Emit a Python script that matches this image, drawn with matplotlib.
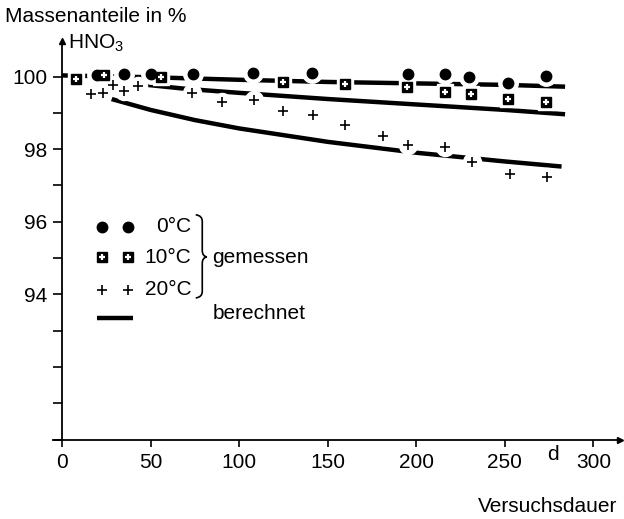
import matplotlib
matplotlib.use("Agg")
import matplotlib.pyplot as plt
from matplotlib.path import Path
from matplotlib.patches import PathPatch

plt.rcParams['font.family'] = ['Liberation Sans', 'DejaVu Sans']
plt.rcParams['mathtext.fontset'] = 'custom'
plt.rcParams['mathtext.rm'] = 'Liberation Sans'
plt.rcParams['mathtext.it'] = 'Liberation Sans'

# measured data
t_0 = [20, 35, 50, 74, 108, 141, 195.5, 216, 230, 252, 273]
v_0 = [100.04, 100.07, 100.07, 100.07, 100.1, 100.1, 100.07, 100.07, 99.98, 99.81, 100.01]

t_10 = [7.7, 24, 56, 124.6, 160, 194.6, 216, 231, 252, 273]
v_10 = [99.92, 100.04, 99.99, 99.86, 99.79, 99.7, 99.58, 99.51, 99.38, 99.31]

t_20 = [16.4, 23.3, 29, 35, 42.7, 73.5, 90.5, 108.5, 124.6, 141.8, 160, 181, 195.5, 216, 231.6, 253, 274]
v_20 = [99.51, 99.54, 99.77, 99.6, 99.75, 99.54, 99.29, 99.35, 99.05, 98.94, 98.66, 98.36, 98.11, 98.07, 97.65, 97.31, 97.24]

# calculated curves
tc_0 = [0, 50, 100, 150, 200, 250, 284]
vc_0 = [100.03, 99.98, 99.91, 99.85, 99.81, 99.77, 99.72]
tc_10 = [48, 70, 100, 150, 200, 250, 284]
vc_10 = [99.77, 99.66, 99.55, 99.38, 99.23, 99.08, 98.96]
tc_20 = [28, 50, 75, 100, 150, 200, 250, 282]
vc_20 = [99.38, 99.08, 98.8, 98.57, 98.2, 97.9, 97.66, 97.52]

x_ticks = [0, 50, 100, 150, 200, 250, 300]
y_ticks = list(range(90, 101))
y_labels = ['' if v not in (94, 96, 98, 100) else str(v) for v in y_ticks]

FS = 15

fig = plt.figure(figsize=(6.24, 5.19), dpi=100)
ax = fig.add_axes([53.1 / 624, (519 - 439.5) / 519, (620 - 53.1) / 624, (439.5 - 41.3) / 519])
ax.set_xlim(-5, 315)
ax.set_ylim(90, 100.97)

for s in ('top', 'right'):
    ax.spines[s].set_visible(False)
ax.spines['left'].set_position(('data', 0))
ax.spines['left'].set_linewidth(1.3)
ax.spines['bottom'].set_linewidth(1.3)

ax.set_xticks(x_ticks)
ax.set_xticklabels([str(v) for v in x_ticks], fontsize=FS)
ax.set_yticks(y_ticks)
ax.set_yticklabels(y_labels, fontsize=FS)
ax.tick_params(axis='y', direction='out', length=6.5, width=1.2, pad=4)
ax.tick_params(axis='x', direction='out', length=5, width=1.2, pad=5)

# arrows
ax.plot([0], [100.97], marker='^', color='k', markersize=4, clip_on=False)
ax.plot([315], [90], marker='>', color='k', markersize=4, clip_on=False)

# calculated lines
for tc, vc in ((tc_0, vc_0), (tc_10, vc_10), (tc_20, vc_20)):
    ax.plot(tc, vc, color='k', lw=3.2, solid_capstyle='butt', zorder=2)

# white halos (gaps in lines around measured points)
ax.plot(t_0, v_0, 'o', color='white', markersize=14, zorder=3, ls='none')
ax.plot(t_10, v_10, 's', color='white', markersize=12, zorder=3, ls='none')
ax.plot(t_20, v_20, 'o', color='white', markersize=13, zorder=3, ls='none')

# measured markers
def circles(x, y):
    ax.plot(x, y, 'o', color='k', markersize=7.5, ls='none', zorder=4, clip_on=False)

def squares(x, y):
    ax.plot(x, y, 's', color='k', markersize=6.5, ls='none', zorder=4, clip_on=False)
    ax.plot(x, y, '+', color='white', markersize=4.2, mew=1.6, ls='none', zorder=5, clip_on=False)

def pluses(x, y):
    ax.plot(x, y, '+', color='k', markersize=7.5, mew=1.2, ls='none', zorder=4, clip_on=False)

circles(t_0, v_0)
squares(t_10, v_10)
pluses(t_20, v_20)

# legend
leg_x = [22.4, 37.4]
circles(leg_x, [95.86, 95.86])
squares(leg_x, [95.02, 95.02])
pluses(leg_x, [94.12, 94.12])
ax.plot([19.6, 40], [93.35, 93.35], color='k', lw=3.2, solid_capstyle='butt')
ax.text(73, 95.86, '0°C', fontsize=FS, ha='right', va='center')
ax.text(73, 95.02, '10°C', fontsize=FS, ha='right', va='center')
ax.text(73, 94.12, '20°C', fontsize=FS, ha='right', va='center')
ax.text(85, 95.02, 'gemessen', fontsize=FS, ha='left', va='center')
ax.text(85, 93.47, 'berechnet', fontsize=FS, ha='left', va='center')

# brace
xl, xm, xt = 75.5, 79.2, 81.8
yt, ym, yb = 96.19, 95.03, 93.9
dy = 0.18
verts = [(xl, yt), (xm, yt - 0.02), (xm, yt - dy),
         (xm, ym + dy),
         (xm, ym + 0.02), (xt, ym),
         (xm, ym - 0.02), (xm, ym - dy),
         (xm, yb + dy),
         (xm, yb + 0.02), (xl, yb)]
codes = [Path.MOVETO, Path.CURVE3, Path.CURVE3,
         Path.LINETO,
         Path.CURVE3, Path.CURVE3,
         Path.CURVE3, Path.CURVE3,
         Path.LINETO,
         Path.CURVE3, Path.CURVE3]
ax.add_patch(PathPatch(Path(verts, codes), fill=False, lw=1.2, color='k'))

# axis labels
ax.text(277, -0.013, 'd', transform=ax.get_xaxis_transform(), fontsize=FS,
        ha='center', va='top')
fig.text(5 / 624, 1 - 17 / 519, 'Massenanteile in %', fontsize=FS, ha='left', va='center')
fig.text(68 / 624, 1 - 43 / 519, r'HNO$_\mathregular{3}$', fontsize=FS, ha='left', va='center')
fig.text(617 / 624, 1 - 507 / 519, 'Versuchsdauer', fontsize=FS, ha='right', va='center')

fig.savefig('out.png', dpi=100)
